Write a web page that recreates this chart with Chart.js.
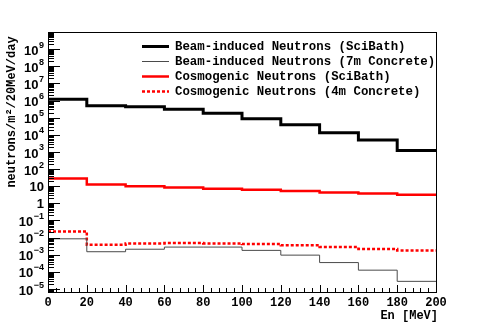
<!DOCTYPE html>
<html>
<head>
<meta charset="utf-8">
<script src="https://cdn.jsdelivr.net/npm/chart.js@4.4.1/dist/chart.umd.min.js"></script>
<style>
  html, body { margin: 0; padding: 0; background: #fff; }
  #wrap { width: 485px; height: 328px; position: relative; }
</style>
</head>
<body>
<div id="wrap"><canvas id="chartId" width="485" height="328"></canvas></div>
<script>
// bin edges, 20 MeV wide
const binEdges = [0, 20, 40, 60, 80, 100, 120, 140, 160, 180, 200];
const beamSciBath = [1.2e6, 5.0e5, 4.4e5, 3.1e5, 1.8e5, 8.7e4, 3.9e4, 1.3e4, 4.9e3, 1.2e3];
const beamConcrete = [8.5e-3, 1.5e-3, 2.1e-3, 2.8e-3, 2.8e-3, 1.8e-3, 9.5e-4, 3.5e-4, 1.26e-4, 2.8e-5];
const cosmoSciBath = [28, 12.6, 10, 8.3, 7.0, 6.2, 5.2, 4.3, 3.7, 3.2];
const cosmoConcrete = [0.023, 0.0038, 0.0046, 0.0048, 0.0046, 0.0042, 0.0036, 0.0028, 0.0022, 0.0018];

const seriesNames = [
  "Beam-induced Neutrons (SciBath)",
  "Beam-induced Neutrons (7m Concrete)",
  "Cosmogenic Neutrons (SciBath)",
  "Cosmogenic Neutrons (4m Concrete)",
];
const xTickLabels = [0, 20, 40, 60, 80, 100, 120, 140, 160, 180, 200];
const yTickExps = [-5, -4, -3, -2, -1, 0, 1, 2, 3, 4, 5, 6, 7, 8, 9];
const xTitle = "En [MeV]";
const yTitle = "neutrons/m\u00b2/20MeV/day";

// histogram -> step points (last bin repeated at right edge)
function histPoints(vals) {
  const pts = vals.map((v, i) => ({ x: binEdges[i], y: v }));
  pts.push({ x: binEdges[binEdges.length - 1], y: vals[vals.length - 1] });
  return pts;
}

const mono = "'Liberation Mono', 'DejaVu Sans Mono', monospace";
const sans = "'Liberation Sans', Arial, sans-serif";

const rootAxes = {
  id: "rootAxes",
  afterDraw(chart) {
    const { ctx, chartArea: a } = chart;
    const xs = chart.scales.x, ys = chart.scales.y;
    ctx.save();
    ctx.strokeStyle = "#000";
    ctx.lineWidth = 1;
    // frame
    ctx.strokeRect(Math.round(a.left) + 0.5, Math.round(a.top) + 0.5,
      Math.round(a.right - a.left), Math.round(a.bottom - a.top));

    // x ticks (major every 20, minor every 4)
    ctx.beginPath();
    for (let v = 0; v <= 200; v += 4) {
      const px = Math.round(xs.getPixelForValue(v)) + 0.5;
      const len = v % 20 === 0 ? 7 : 4;
      ctx.moveTo(px, a.bottom);
      ctx.lineTo(px, a.bottom - len);
    }
    // y ticks: major at decades, minor 2..9
    const lo = Math.floor(Math.log10(ys.min)), hi = Math.ceil(Math.log10(ys.max));
    for (let e = lo; e <= hi; e++) {
      for (let k = 1; k <= 9; k++) {
        const val = k * Math.pow(10, e);
        if (val < ys.min || val > ys.max) continue;
        const py = Math.round(ys.getPixelForValue(val)) + 0.5;
        const len = k === 1 ? 12 : 6;
        ctx.moveTo(a.left, py);
        ctx.lineTo(a.left + len, py);
      }
    }
    ctx.stroke();

    // x labels
    ctx.fillStyle = "#000";
    ctx.font = "bold 12px " + mono;
    ctx.textAlign = "center";
    ctx.textBaseline = "middle";
    xTickLabels.forEach(v => {
      ctx.fillText(String(v), xs.getPixelForValue(v), a.bottom + 11);
    });
    ctx.textAlign = "right";
    ctx.fillText(xTitle, a.right + 2, a.bottom + 24);

    // y labels 10^n
    const baseFont = "bold 13px " + sans;
    const expFont = "bold 9px " + sans;
    const rightX = 44;
    yTickExps.forEach(e => {
      const py = ys.getPixelForValue(Math.pow(10, e));
      ctx.textAlign = "left";
      ctx.textBaseline = "middle";
      if (e === 0 || e === 1) {
        ctx.font = baseFont;
        const t = e === 0 ? "1" : "10";
        const w = ctx.measureText(t).width;
        ctx.fillText(t, rightX - w, py + 1);
        return;
      }
      const et = String(e).replace("-", "\u2212");
      ctx.font = expFont;
      const ew = ctx.measureText(et).width;
      ctx.font = baseFont;
      const bw = ctx.measureText("10").width;
      const x0 = rightX - ew - bw - 0.5;
      ctx.fillText("10", x0, py + 2);
      ctx.font = expFont;
      ctx.fillText(et, x0 + bw + 0.5, py - 4);
    });

    // y title
    ctx.save();
    ctx.translate(12, 112);
    ctx.rotate(-Math.PI / 2);
    ctx.font = "bold 12px " + mono;
    ctx.textAlign = "center";
    ctx.textBaseline = "middle";
    ctx.fillText(yTitle, 0, 0);
    ctx.restore();

    // legend
    const rows = [46, 61, 76, 91];
    chart.data.datasets.forEach((ds, i) => {
      const y = rows[i] + 0.5;
      ctx.beginPath();
      ctx.strokeStyle = ds.borderColor;
      ctx.lineWidth = ds.borderWidth;
      ctx.setLineDash(ds.borderDash || []);
      ctx.moveTo(142, y);
      ctx.lineTo(169, y);
      ctx.stroke();
      ctx.setLineDash([]);
      ctx.fillStyle = "#000";
      ctx.font = "bold 12.4px " + mono;
      ctx.textAlign = "left";
      ctx.textBaseline = "middle";
      ctx.fillText(seriesNames[i], 175, y);
    });
    ctx.restore();
  },
};

const ctx = document.getElementById("chartId");
const chart = new Chart(ctx, {
  type: "line",
  data: {
    datasets: [
      { label: seriesNames[0], data: histPoints(beamSciBath), borderColor: "#000", borderWidth: 3 },
      { label: seriesNames[1], data: histPoints(beamConcrete), borderColor: "#4a4a4a", borderWidth: 1 },
      { label: seriesNames[2], data: histPoints(cosmoSciBath), borderColor: "#ff0000", borderWidth: 2.5 },
      { label: seriesNames[3], data: histPoints(cosmoConcrete), borderColor: "#ff0000", borderWidth: 2.5, borderDash: [3, 2] },
    ].map(d => Object.assign(d, { stepped: "before", pointRadius: 0, fill: false, tension: 0 })),
  },
  options: {
    responsive: false,
    animation: false,
    layout: { padding: { left: 48, right: 49, top: 32, bottom: 36 } },
    plugins: { legend: { display: false }, tooltip: { enabled: false } },
    scales: {
      x: { type: "linear", min: 0, max: 200, display: false },
      y: { type: "logarithmic", min: 6.7e-6, max: 1e10, display: false },
    },
  },
  plugins: [rootAxes],
});
</script>
</body>
</html>
